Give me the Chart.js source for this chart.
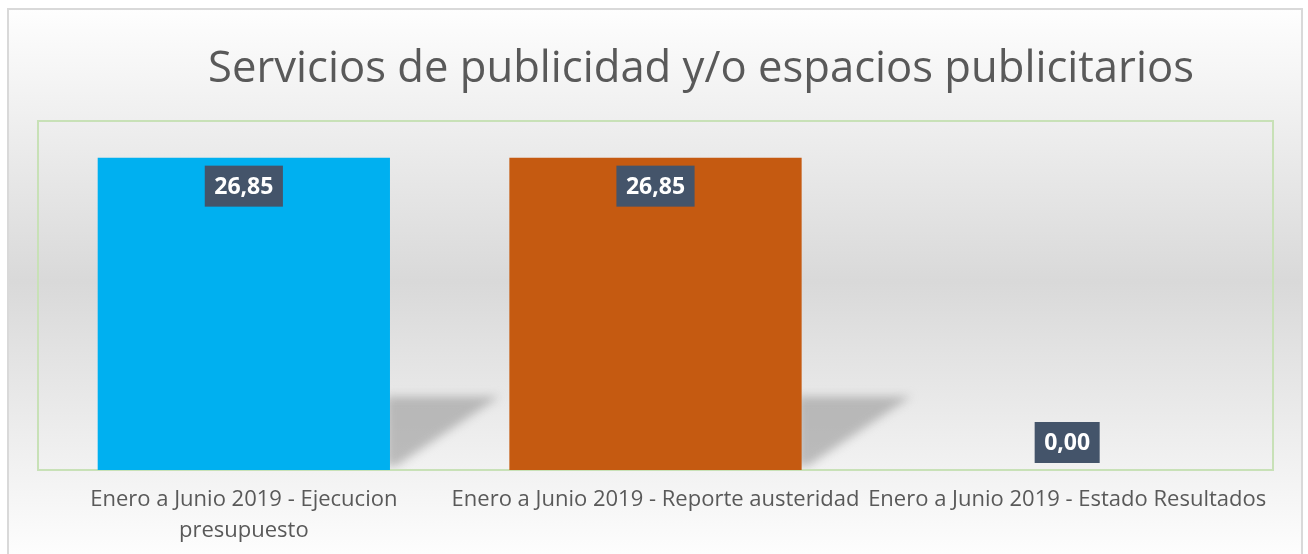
<!DOCTYPE html>
<html>
<head>
<meta charset="utf-8">
<script src="https://cdn.jsdelivr.net/npm/chart.js@4.4.1/dist/chart.umd.min.js"></script>
<style>
  html, body { margin: 0; padding: 0; background: #ffffff; }
  #chart { display: block; }
</style>
</head>
<body>
<canvas id="chart" width="1308" height="554"></canvas>
<script>
// datos del gráfico
const categories = [
    ['Enero a Junio 2019 - Ejecucion', 'presupuesto'],
    'Enero a Junio 2019 - Reporte austeridad',
    'Enero a Junio 2019 - Estado Resultados'
];
const values = [26.85, 26.85, 0.00];
const barColors = ['#00B0F0', '#C55A11', '#A5A5A5'];
const chartTitle = 'Servicios de publicidad y/o espacios publicitarios';

// fondo degradado y marco exterior
const backgroundPlugin = {
    id: 'fondo',
    beforeDraw(chart) {
        const ctx = chart.ctx;
        ctx.save();
        ctx.fillStyle = '#ffffff';
        ctx.fillRect(0, 0, chart.width, chart.height);
        const grad = ctx.createLinearGradient(0, 9, 0, chart.height);
        grad.addColorStop(0, '#fefefe');
        grad.addColorStop(0.5, '#d9d9d9');
        grad.addColorStop(1, '#fdfdfd');
        ctx.fillStyle = grad;
        ctx.fillRect(8, 9, 1294, chart.height);
        ctx.strokeStyle = '#d9d9d9';
        ctx.lineWidth = 2;
        ctx.strokeRect(8, 9, 1294, chart.height + 10);
        ctx.restore();
    }
};

// título (desplazado a la derecha como en el original)
const titlePlugin = {
    id: 'titulo',
    afterDraw(chart) {
        const ctx = chart.ctx;
        ctx.save();
        ctx.font = '43.6px "Open Sans"';
        ctx.fillStyle = '#595959';
        ctx.textAlign = 'center';
        ctx.textBaseline = 'alphabetic';
        ctx.fillText(chartTitle, 701, 82);
        ctx.restore();
    }
};

// sombras en perspectiva detrás de las barras
const shadowPlugin = {
    id: 'sombras',
    beforeDatasetsDraw(chart) {
        const ctx = chart.ctx;
        const area = chart.chartArea;
        const meta = chart.getDatasetMeta(0);
        ctx.save();
        ctx.beginPath();
        ctx.rect(area.left, area.top, area.right - area.left, area.bottom - area.top);
        ctx.clip();
        ctx.filter = 'blur(5px)';
        ctx.fillStyle = 'rgba(150,150,150,0.6)';
        meta.data.forEach((bar, i) => {
            if (!values[i]) return;
            const h = bar.base - bar.y;
            const right = bar.x + bar.width / 2;
            const top = bar.base - h * 0.235;
            ctx.beginPath();
            ctx.moveTo(right - 4, top);
            ctx.lineTo(right + h * 0.35, top);
            ctx.lineTo(right + 6, bar.base - 4);
            ctx.lineTo(right - 4, bar.base - 4);
            ctx.closePath();
            ctx.fill();
        });
        ctx.restore();
        // borde del área de trazado
        ctx.save();
        ctx.strokeStyle = '#c8e1b7';
        ctx.lineWidth = 2;
        ctx.strokeRect(area.left, area.top, area.right - area.left, area.bottom - area.top);
        ctx.restore();
    }
};

// etiquetas de datos en cajas oscuras
const labelPlugin = {
    id: 'etiquetas',
    afterDatasetsDraw(chart) {
        const ctx = chart.ctx;
        const meta = chart.getDatasetMeta(0);
        ctx.save();
        ctx.font = 'bold 23px "Open Sans"';
        ctx.textAlign = 'center';
        ctx.textBaseline = 'middle';
        meta.data.forEach((bar, i) => {
            const text = values[i].toFixed(2).replace('.', ',');
            const w = ctx.measureText(text).width + 19;
            const h = 41;
            const top = values[i] > 0 ? bar.y + 8 : bar.base - 7 - h;
            ctx.fillStyle = '#44546A';
            ctx.fillRect(bar.x - w / 2, top, w, h);
            ctx.fillStyle = '#ffffff';
            ctx.fillText(text, bar.x, top + h / 2 + 1);
        });
        ctx.restore();
    }
};

const ctx = document.getElementById('chart').getContext('2d');
const chart = new Chart(ctx, {
    type: 'bar',
    data: {
        labels: categories,
        datasets: [{
            data: values,
            backgroundColor: barColors,
            borderWidth: 0,
            barPercentage: 0.71,
            categoryPercentage: 1
        }]
    },
    options: {
        responsive: false,
        animation: false,
        devicePixelRatio: 1,
        layout: {
            padding: { left: 38, right: 35, top: 121, bottom: 0 }
        },
        plugins: {
            legend: { display: false },
            tooltip: { enabled: false },
            title: { display: false }
        },
        scales: {
            x: {
                grid: { display: false, drawTicks: false },
                border: { display: false },
                afterFit: (scale) => { scale.height = 84; },
                ticks: {
                    color: '#595959',
                    font: { family: '"Open Sans"', size: 22, lineHeight: 1.38 },
                    padding: 15,
                    maxRotation: 0,
                    autoSkip: false
                }
            },
            y: {
                display: false,
                min: 0,
                max: 30
            }
        }
    },
    plugins: [backgroundPlugin, shadowPlugin, labelPlugin, titlePlugin]
});
</script>
</body>
</html>
